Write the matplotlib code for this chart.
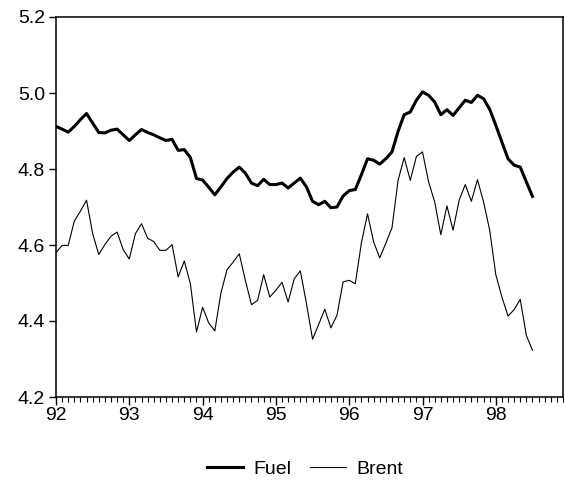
import numpy as np
import matplotlib
matplotlib.use("Agg")
import matplotlib.pyplot as plt
from matplotlib.ticker import MultipleLocator, FormatStrFormatter

plt.rcParams['font.family'] = ['Liberation Sans', 'DejaVu Sans']

# Monthly observations, 1992M01 .. 1998M07 (log prices)
start_year = 92
fuel = [4.912, 4.905, 4.897, 4.912, 4.930, 4.946, 4.921, 4.896, 4.895, 4.902, 4.905, 4.890,
        4.875, 4.890, 4.904, 4.896, 4.890, 4.882, 4.875, 4.878, 4.849, 4.851, 4.830, 4.775,
        4.771, 4.752, 4.732, 4.753, 4.775, 4.792, 4.805, 4.789, 4.763, 4.756, 4.773, 4.759,
        4.759, 4.763, 4.750, 4.763, 4.776, 4.753, 4.715, 4.706, 4.715, 4.698, 4.700, 4.729,
        4.743, 4.746, 4.785, 4.827, 4.823, 4.813, 4.827, 4.845, 4.899, 4.943, 4.950, 4.981,
        5.003, 4.994, 4.976, 4.943, 4.956, 4.941, 4.961, 4.981, 4.975, 4.994, 4.985, 4.957,
        4.915, 4.871, 4.827, 4.810, 4.805, 4.766, 4.728]
brent = [4.580, 4.599, 4.599, 4.663, 4.689, 4.718, 4.630, 4.575, 4.601, 4.623, 4.634, 4.588,
         4.563, 4.630, 4.656, 4.618, 4.609, 4.586, 4.586, 4.601, 4.516, 4.558, 4.498, 4.371,
         4.436, 4.395, 4.374, 4.474, 4.535, 4.555, 4.577, 4.507, 4.443, 4.454, 4.522, 4.463,
         4.481, 4.502, 4.450, 4.511, 4.532, 4.446, 4.352, 4.391, 4.431, 4.382, 4.415, 4.503,
         4.507, 4.498, 4.606, 4.682, 4.608, 4.566, 4.605, 4.645, 4.770, 4.830, 4.770, 4.833,
         4.845, 4.766, 4.713, 4.627, 4.703, 4.639, 4.718, 4.759, 4.715, 4.772, 4.713, 4.639,
         4.522, 4.463, 4.413, 4.430, 4.457, 4.362, 4.323]
year_labels = ['92', '93', '94', '95', '96', '97', '98']

x = start_year + np.arange(len(fuel)) / 12.0

fig = plt.figure(figsize=(5.65, 4.84), dpi=100)
ax = fig.add_axes([56 / 565, (484 - 397) / 484, 507 / 565, 380 / 484])

l1, = ax.plot(x, fuel, color='black', lw=2.2, label='Fuel')
l2, = ax.plot(x, brent, color='black', lw=0.8, label='Brent')

ax.set_xlim(92, 92 + 6 + 11 / 12)
ax.set_ylim(4.2, 5.2)
ax.set_xticks(np.arange(92, 99))
ax.set_xticklabels(year_labels)
ax.xaxis.set_minor_locator(MultipleLocator(1 / 12))
ax.yaxis.set_major_locator(MultipleLocator(0.2))
ax.yaxis.set_major_formatter(FormatStrFormatter('%.1f'))

ax.tick_params(axis='x', which='major', direction='out', length=6, width=1,
               labelsize=14, pad=1.5)
ax.tick_params(axis='x', which='minor', direction='out', length=3.5, width=0.8)
ax.tick_params(axis='y', which='major', direction='out', length=5, width=1,
               labelsize=14, pad=3)
for s in ax.spines.values():
    s.set_linewidth(1.1)

fig.legend(handles=[l1, l2], loc='center', bbox_to_anchor=(0.54, 0.03), ncol=2,
           frameon=False, fontsize=14, handlelength=1.85, handletextpad=0.5,
           columnspacing=1.0)

fig.savefig('out.png', dpi=100)
